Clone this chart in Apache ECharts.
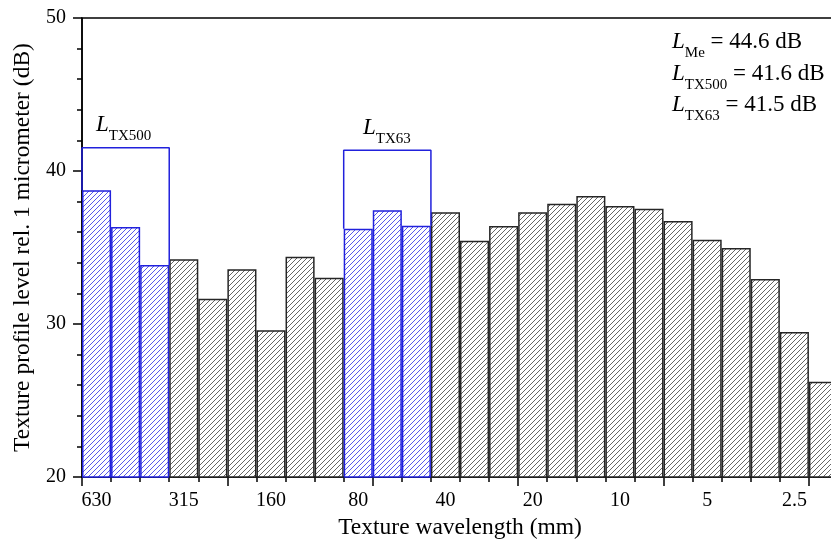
<!DOCTYPE html>
<html><head><meta charset="utf-8">
<script src="https://cdn.jsdelivr.net/npm/echarts@6/dist/echarts.min.js"></script>
<style>html,body{margin:0;padding:0;background:#fff}#c{width:831px;height:543px}</style>
</head><body><div id="c"></div>
<script>
// Data
const wavelengths = ['630','500','400','315','250','200','160','125','100','80','63','50','40','31.5','25','20','16','12.5','10','8','6.3','5','4','3.15','2.5','2'];
const levels = [38.74,36.34,33.86,34.23,31.65,33.58,29.59,34.40,33.03,36.23,37.43,36.42,37.30,35.44,36.41,37.30,37.86,38.37,37.71,37.54,36.73,35.51,34.97,32.94,29.48,26.23];
const highlighted = ['630','500','400','80','63','50'];
const bracketTX500 = {from:'630', to:'400', level:41.52};
const bracketTX63 = {from:'80', to:'50', level:41.35};
const yTicks = {min:20, max:50, step:10};
const summaryLines = [
  {sub:'Me', value:'44.6'},
  {sub:'TX500', value:'41.6'},
  {sub:'TX63', value:'41.5'}
];

const SERIF = 'Liberation Serif';
const BLUE = '#2121dc';

function hatch(color, width){
  const s = 5;
  const c = document.createElement('canvas'); c.width = s; c.height = s;
  const g = c.getContext('2d');
  g.fillStyle = '#fff'; g.fillRect(0,0,s,s);
  g.strokeStyle = color; g.lineWidth = width;
  g.beginPath();
  g.moveTo(-1, s+1); g.lineTo(s+1, -1);
  g.moveTo(-s-1, s+1); g.lineTo(1, -1);
  g.moveTo(-1, 2*s+1); g.lineTo(2*s+1, -1);
  g.stroke();
  return c;
}
const hatchBlack = hatch('#4a4a4a', 0.85);
const hatchBlue = hatch('#3a3ae6', 0.85);

function bracketData(b){
  const s = wavelengths.indexOf(b.from), e = wavelengths.indexOf(b.to) + 1;
  return [[s, levels[s]], [s, b.level], [e, b.level], [e, levels[e-1]]];
}
const isHi = i => highlighted.includes(wavelengths[i]);

const rich = {
  L:{fontFamily:SERIF, fontStyle:'italic', fontSize:23, lineHeight:38, verticalAlign:'middle', color:'#000'},
  s:{fontFamily:SERIF, fontSize:15, verticalAlign:'bottom', color:'#000'},
  t:{fontFamily:SERIF, fontSize:23, lineHeight:38, verticalAlign:'middle', color:'#000'}
};
const tops = [30, 62, 93];
const graphics = summaryLines.map((l, i) => ({
  type:'text', left:672, top:tops[i], z:10,
  style:{text:'{L|L}{s|' + l.sub + '}{t| = ' + l.value + ' dB}', rich:rich}
}));
graphics.push({type:'text', left:96, top:113, z:10, style:{text:'{L|L}{s|TX500}', rich:rich}});
graphics.push({type:'text', left:363, top:116, z:10, style:{text:'{L|L}{s|TX63}', rich:rich}});

const chart = echarts.init(document.getElementById('c'));
chart.setOption({
  animation:false,
  backgroundColor:'#fff',
  grid:{left:82, width:756, top:18, bottom:66, outerBoundsMode:'none', containLabel:false,
        show:true, borderColor:'#000', borderWidth:1.5, backgroundColor:'transparent'},
  xAxis:[
    {type:'category', data:wavelengths, boundaryGap:true, position:'bottom',
     axisLine:{lineStyle:{color:'#000', width:1.5}},
     axisTick:{show:true, interval:0, length:5, lineStyle:{color:'#000', width:1.5}},
     axisLabel:{interval:2, margin:14, fontFamily:SERIF, fontSize:20, color:'#000'},
     splitLine:{show:false},
     name:'Texture wavelength (mm)', nameLocation:'middle', nameGap:39,
     nameTextStyle:{fontFamily:SERIF, fontSize:23.5, color:'#000'}},
    {type:'value', min:0, max:wavelengths.length, interval:5, position:'bottom',
     axisLine:{show:false},
     axisTick:{show:true, length:9, lineStyle:{color:'#000', width:1.5}},
     axisLabel:{show:false}, splitLine:{show:false}}
  ],
  yAxis:{type:'value', min:yTicks.min, max:yTicks.max, interval:yTicks.step,
     axisLine:{show:true, lineStyle:{color:'#000', width:1.5}},
     axisTick:{show:true, length:9, lineStyle:{color:'#000', width:1.5}},
     minorTick:{show:true, splitNumber:5, length:5, lineStyle:{color:'#000', width:1.5}},
     axisLabel:{margin:16, fontFamily:SERIF, fontSize:20, color:'#000'},
     splitLine:{show:false},
     name:'Texture profile level rel. 1 micrometer (dB)', nameLocation:'middle', nameGap:47, nameRotate:90,
     nameTextStyle:{fontFamily:SERIF, fontSize:23.5, color:'#000'}},
  series:[
    {type:'bar', xAxisIndex:0, data:levels.map((v,i)=> isHi(i) ? '-' : v),
     barCategoryGap:'0%', barGap:'-100%',
     itemStyle:{color:{image:hatchBlack, repeat:'repeat'}, borderColor:'#262626', borderWidth:1.5}},
    {type:'bar', xAxisIndex:0, data:levels.map((v,i)=> isHi(i) ? v : '-'),
     barCategoryGap:'0%', barGap:'-100%', z:3,
     itemStyle:{color:{image:hatchBlue, repeat:'repeat'}, borderColor:BLUE, borderWidth:1.5}},
    {type:'line', xAxisIndex:1, data:bracketData(bracketTX500), symbol:'none', clip:false, z:4,
     lineStyle:{color:BLUE, width:1.5}},
    {type:'line', xAxisIndex:1, data:bracketData(bracketTX63), symbol:'none', clip:false, z:4,
     lineStyle:{color:BLUE, width:1.5}}
  ],
  graphic:graphics
});
</script></body></html>
